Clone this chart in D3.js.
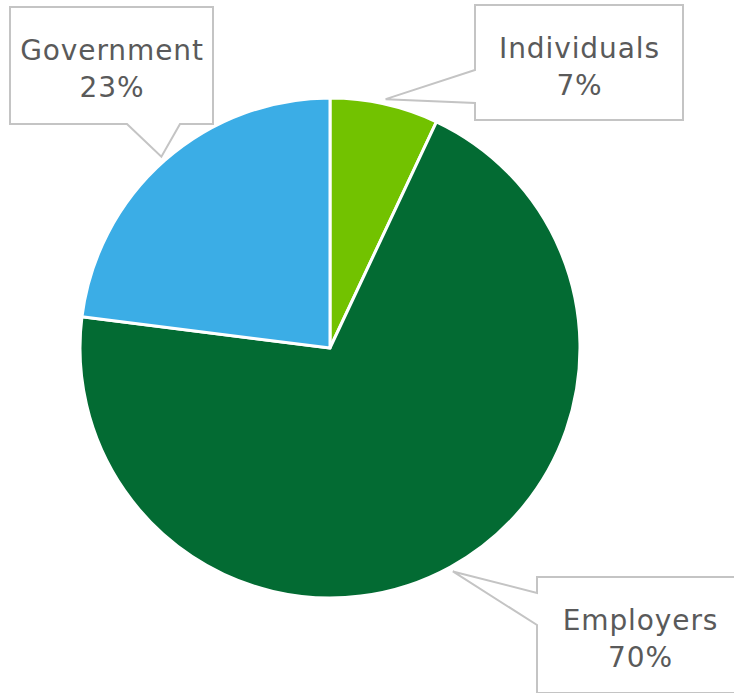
<!DOCTYPE html>
<html lang="en">
<head>
<meta charset="UTF-8">
<title>Funding sources pie</title>
<script src="https://d3js.org/d3.v7.min.js"></script>
<style>
  body { margin: 0; background: #fff; }
  text { font-family: "DejaVu Sans", Verdana, sans-serif; fill: #5a5a5a; letter-spacing: 0.9px; }
</style>
</head>
<body>
<svg id="chart" width="734" height="693"></svg>
<script>
// data
var categories = ["Individuals", "Employers", "Government"];
var shares = [7, 70, 23];
var colors = ["#72c200", "#036b33", "#3badE6"];

// callout boxes (layout only): box x, y, w, h
var boxes = [
  { x: 475, y: 5, w: 208, h: 115 },
  { x: 537, y: 577, w: 206, h: 116 },
  { x: 10, y: 7, w: 203, h: 117 }
];

var svg = d3.select("#chart");
var cx = 330, cy = 348, r = 250;

var pie = d3.pie().sort(null).value(function(d) { return d; });
var arcs = pie(shares);

var arc = d3.arc().innerRadius(0).outerRadius(r);

var g = svg.append("g").attr("transform", "translate(" + cx + "," + cy + ")");

g.selectAll("path.slice")
  .data(arcs)
  .enter()
  .append("path")
  .attr("class", "slice")
  .attr("d", arc)
  .attr("fill", function(d, i) { return colors[i]; })
  .attr("stroke", "#fff")
  .attr("stroke-width", 3)
  .attr("stroke-linejoin", "round");

// pointer tip sits just outside the arc at mid angle
function tipPoint(d) {
  var a = (d.startAngle + d.endAngle) / 2;
  return [cx + 255 * Math.sin(a), cy - 255 * Math.cos(a)];
}

// build callout outline: rectangle with a wedge going to the tip
function calloutPath(b, tip, side) {
  var p = d3.path();
  var x0 = b.x, y0 = b.y, x1 = b.x + b.w, y1 = b.y + b.h;
  if (side === "bottom") {
    // wedge on bottom edge
    p.moveTo(x0, y0); p.lineTo(x1, y0); p.lineTo(x1, y1);
    p.lineTo(x0 + 170, y1); p.lineTo(tip[0], tip[1]); p.lineTo(x0 + 117, y1);
    p.lineTo(x0, y1); p.closePath();
  } else if (side === "leftlow") {
    p.moveTo(x0, y0); p.lineTo(x1, y0); p.lineTo(x1, y1); p.lineTo(x0, y1);
    p.lineTo(x0, y0 + 98); p.lineTo(tip[0], tip[1]); p.lineTo(x0, y0 + 65);
    p.closePath();
  } else {
    p.moveTo(x0, y0); p.lineTo(x1, y0); p.lineTo(x1, y1); p.lineTo(x0, y1);
    p.lineTo(x0, y0 + 48); p.lineTo(tip[0], tip[1]); p.lineTo(x0, y0 + 16);
    p.closePath();
  }
  return p.toString();
}

var sides = ["leftlow", "lefttop", "bottom"];

var callouts = svg.selectAll("g.callout")
  .data(arcs)
  .enter()
  .append("g")
  .attr("class", "callout");

callouts.append("path")
  .attr("d", function(d, i) { return calloutPath(boxes[i], tipPoint(d), sides[i]); })
  .attr("fill", "#fff")
  .attr("stroke", "#c4c4c4")
  .attr("stroke-width", 2);

callouts.append("text")
  .attr("x", function(d, i) { return boxes[i].x + boxes[i].w / 2 + 0.5; })
  .attr("y", function(d, i) { return boxes[i].y + 53; })
  .attr("text-anchor", "middle")
  .style("font-size", "28px")
  .text(function(d, i) { return categories[i]; });

callouts.append("text")
  .attr("x", function(d, i) { return boxes[i].x + boxes[i].w / 2 + 0.5; })
  .attr("y", function(d, i) { return boxes[i].y + 90; })
  .attr("text-anchor", "middle")
  .style("font-size", "28px")
  .text(function(d, i) { return shares[i] + "%"; });
</script>
</body>
</html>
